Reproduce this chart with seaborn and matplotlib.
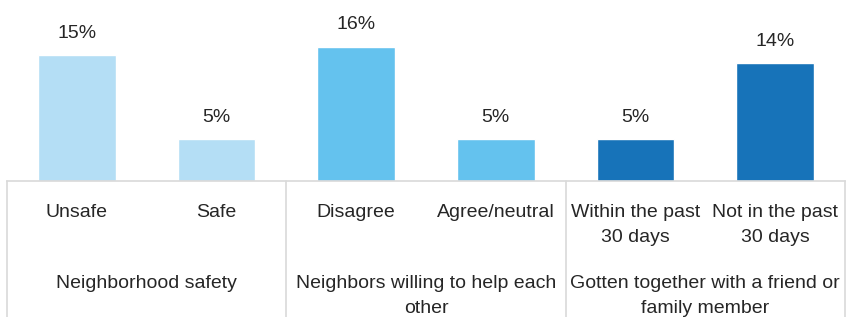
import matplotlib
matplotlib.use("Agg")
import matplotlib.pyplot as plt
import seaborn as sns
import pandas as pd
from matplotlib import font_manager

categories = ["Unsafe", "Safe", "Disagree", "Agree/neutral",
              "Within the past\n30 days", "Not in the past\n30 days"]
values = [15, 5, 16, 5, 5, 14]
groups = ["Neighborhood safety", "Neighbors willing to help each\nother",
          "Gotten together with a friend or\nfamily member"]
colors = ["#B4DEF5", "#B4DEF5", "#64C2EE", "#64C2EE", "#1773B9", "#1773B9"]

sns.set_theme(style="white")
names = {f.name for f in font_manager.fontManager.ttflist}
fam = "Liberation Sans Narrow" if "Liberation Sans Narrow" in names else "Liberation Sans"
plt.rcParams["font.family"] = [fam, "DejaVu Sans"]
txt = "#262626"

df = pd.DataFrame({"cat": categories, "val": values})
fig = plt.figure(figsize=(8.46, 3.17), dpi=100)
H = 317.0
ax = fig.add_axes([7 / 846, 1 - 181 / H, 838 / 846, 181 / H])
sns.barplot(data=df, x="cat", y="val", hue="cat", palette=colors, order=categories,
            hue_order=categories, width=0.557, legend=False, ax=ax, saturation=1)
ax.set_xlim(-0.5, 5.5)
ax.set_ylim(0, 181 / 8.4)
ax.set_xlabel("")
ax.set_ylabel("")
ax.set_yticks([])
for s in ["top", "left", "right"]:
    ax.spines[s].set_visible(False)
ax.spines["bottom"].set_color("#d9d9d9")
ax.spines["bottom"].set_linewidth(1.2)
ax.tick_params(axis="x", length=0, pad=16.5, labelsize=14, labelcolor=txt)
for lab in ax.get_xticklabels():
    lab.set_multialignment("center")
    lab.set_linespacing(1.6)

for i, v in enumerate(values):
    ax.annotate(f"{v}%", (i, v), xytext=(0, 12.5), textcoords="offset points",
                ha="center", va="baseline", fontsize=14, color=txt)

tr = ax.get_xaxis_transform()
for xs in [-0.5, 1.5, 3.5, 5.5]:
    ax.plot([xs, xs], [0, -1.0], transform=tr, color="#d9d9d9", lw=1.2, clip_on=False)

for g, name in enumerate(groups):
    ax.text(2 * g + 0.5, -(275 - 181) / 181, name, transform=tr, ha="center", va="top",
            fontsize=14, color=txt, multialignment="center", linespacing=1.6)

fig.savefig("out.png", dpi=100)
